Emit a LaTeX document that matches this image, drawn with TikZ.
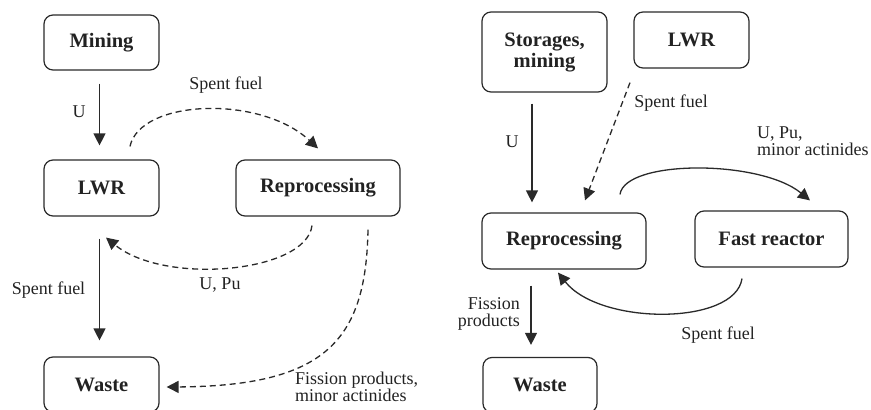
\documentclass[tikz,border=0pt]{standalone}
\usepackage{fontspec}
\setmainfont{Liberation Serif}
\usetikzlibrary{arrows.meta,calc}
\definecolor{linec}{HTML}{2A2A2A}
\definecolor{textc}{HTML}{222222}
\begin{document}
\begin{tikzpicture}[x=1pt,y=-1pt,
  box/.style={draw=linec, rounded corners=9pt, line width=1.2pt,
    font=\fontsize{20.5}{21}\selectfont\bfseries, align=center, inner sep=0pt, text=textc},
  lbl/.style={font=\fontsize{18}{17.5}\selectfont, text=textc, inner sep=0pt},
  arr/.style={draw=linec, line width=1.3pt, -{Triangle[length=12pt,width=12pt]}},
  darr/.style={arr, dash pattern=on 6pt off 4pt},
]
\path[use as bounding box] (0,0) rectangle (871,410);
\clip (0,0) rectangle (871,410);
% ---------- left diagram ----------
\node[box, minimum width=115pt, minimum height=55pt] (mining) at (101.5,42.5) {Mining};
\node[box, minimum width=115pt, minimum height=56pt] (lwr) at (101.5,188) {LWR};
\node[box, minimum width=164pt, minimum height=56pt] (repL) at (318,188) {Reprocessing};
\node[box, minimum width=115pt, minimum height=55pt] (wasteL) at (101.5,384.5) {Waste};

\draw[arr] ($(mining.south)+(-2,13)$) -- ($(lwr.north)+(-2,-14)$);
\draw[darr] ($(lwr.north)+(28.5,-13)$) .. controls +(10,-47) and +(-58,-54) .. ($(repL.north)+(0,-11)$);
\draw[darr] ($(repL.south)+(-6,9)$) .. controls +(-6,47) and +(59,48) .. ($(lwr.south)+(4.5,21)$);
\draw[darr] ($(repL.south)+(50,13)$) .. controls +(-2,111) and +(159,-1) .. ($(wasteL.east)+(7,2.5)$);
\draw[arr] ($(lwr.south)+(-2,22)$) -- ($(wasteL.north)+(-2,-16)$);

\node[lbl] (lU) at (79,112) {U};
\node[lbl] (lsf1) at (226,85) {Spent fuel};
\node[lbl] (lupu) at (220,285) {U, Pu};
\node[lbl] (lsf2) at (48.5,290) {Spent fuel};
\node[lbl, anchor=west, align=left] (lfp) at (295,387) {Fission products,\\minor actinides};

% ---------- right diagram ----------
\node[box, minimum width=125pt, minimum height=80pt] (stor) at (544.5,52) {Storages,\\mining};
\node[box, minimum width=115pt, minimum height=56pt] (lwrR) at (691.5,40) {LWR};
\node[box, minimum width=164pt, minimum height=56pt] (repR) at (564,241) {Reprocessing};
\node[box, minimum width=153pt, minimum height=56pt] (fast) at (771.5,239) {Fast reactor};
\node[box, minimum width=114pt, minimum height=55pt] (wasteR) at (540,385) {Waste};

\draw[arr] ($(stor.south)+(-12.5,11)$) -- ($(repR.north)+(-32,-10)$);
\draw[darr] ($(lwrR.south)+(-61.5,14)$) -- ($(repR.north)+(21,-12)$);
\draw[arr] ($(repR.north)+(56,-18)$) .. controls +(5,-35) and +(-50,-41) .. ($(fast.north)+(38.5,-10)$);
\draw[arr] ($(fast.south)+(-29.5,11)$) .. controls +(-7,47) and +(42,53) .. ($(repR.south)+(-6,3)$);
\draw[arr] ($(repR.south)+(-33,16)$) -- ($(wasteR.north)+(-9,-12)$);

\node[lbl] (rsf1) at (671,103) {Spent fuel};
\node[lbl] (rU) at (512,142) {U};
\node[lbl, anchor=west, align=left] (rupu) at (757,141) {U, Pu,\\minor actinides};
\node[lbl, anchor=east, align=right] (rfp) at (520,314) {Fission\\products};
\node[lbl] (rsf2) at (718,335) {Spent fuel};
\end{tikzpicture}
\end{document}
